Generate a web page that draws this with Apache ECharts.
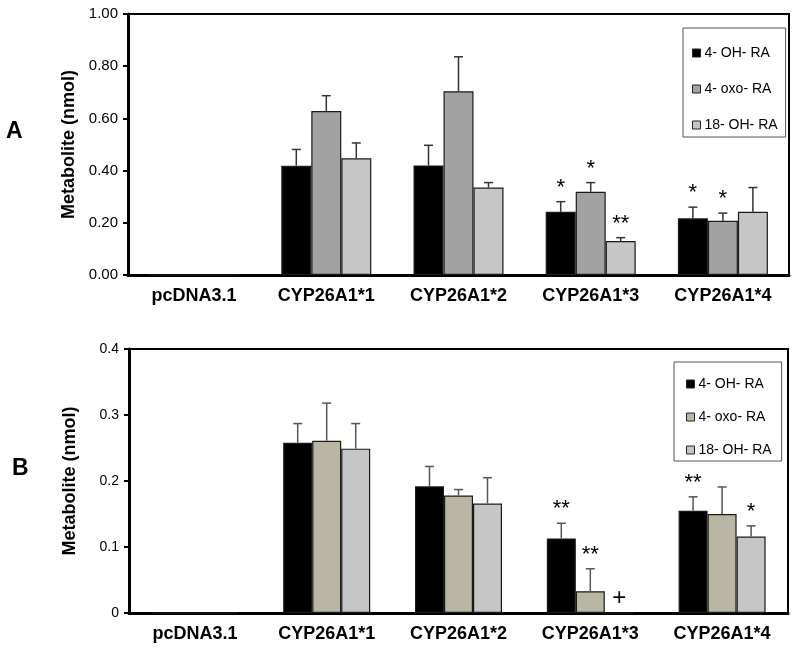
<!DOCTYPE html>
<html>
<head>
<meta charset="utf-8">
<script src="https://cdn.jsdelivr.net/npm/echarts@6/dist/echarts.min.js"></script>
<style>
html,body{margin:0;padding:0;background:#fff;}
#chart{width:800px;height:652px;}
</style>
</head>
<body>
<div id="chart"></div>
<script>
// ---------- data ----------
const categories = ['pcDNA3.1', 'CYP26A1*1', 'CYP26A1*2', 'CYP26A1*3', 'CYP26A1*4'];
const seriesNames = ['4- OH- RA', '4- oxo- RA', '18- OH- RA'];

// Panel A
const a_OH   = [0, 0.419, 0.420, 0.242, 0.217];
const a_oxo  = [0, 0.628, 0.704, 0.319, 0.208];
const a_18OH = [0, 0.447, 0.335, 0.130, 0.242];
const a_OH_err   = [0, 0.062, 0.077, 0.039, 0.043];
const a_oxo_err  = [0, 0.059, 0.132, 0.035, 0.029];
const a_18OH_err = [0, 0.059, 0.019, 0.013, 0.093];
const a_yTicks = [0, 0.2, 0.4, 0.6, 0.8, 1.0];
const a_annCat = [3, 3, 3, 4, 4];
const a_annSer = [0, 1, 2, 0, 1];
const a_annText = ['*', '*', '**', '*', '*'];

// Panel B
const b_OH   = [0, 0.258, 0.192, 0.113, 0.155];
const b_oxo  = [0, 0.261, 0.178, 0.033, 0.150];
const b_18OH = [0, 0.249, 0.166, 0, 0.116];
const b_OH_err   = [0, 0.029, 0.030, 0.023, 0.021];
const b_oxo_err  = [0, 0.057, 0.009, 0.034, 0.041];
const b_18OH_err = [0, 0.038, 0.039, 0, 0.016];
const b_yTicks = [0, 0.1, 0.2, 0.3, 0.4];
const b_annCat = [3, 3, 3, 4, 4];
const b_annSer = [0, 1, 2, 0, 2];
const b_annText = ['**', '**', '+', '**', '*'];

// ---------- build ----------
const FONT = 'Arial, "Liberation Sans", sans-serif';
const colorsA = ['#000000', '#a2a2a2', '#c6c6c6'];
const colorsB = ['#000000', '#b9b7a4', '#c6c6c6'];

function panel(vals, errs, annCat, annSer, annText, idx, barW, colors, errColor) {
  const series = [];
  vals.forEach((v, s) => {
    series.push({
      type: 'bar', name: seriesNames[s], xAxisIndex: idx, yAxisIndex: idx,
      data: v, barWidth: barW, barGap: '0%',
      itemStyle: { color: colors[s], borderColor: '#1a1a1a', borderWidth: 1.2 },
      z: 2
    });
  });
  const errData = [];
  vals.forEach((v, s) => v.forEach((y, c) => {
    if (errs[s][c] > 0) errData.push([c, y, errs[s][c], s]);
  }));
  series.push({
    type: 'custom', xAxisIndex: idx, yAxisIndex: idx, data: errData, z: 3,
    renderItem: function (params, api) {
      const c = api.value(0), y = api.value(1), e = api.value(2), s = api.value(3);
      const p0 = api.coord([c, y]);
      const p1 = api.coord([c, y + e]);
      const x = p0[0] + (s - 1) * barW;
      const st = { stroke: errColor, lineWidth: 1.5 };
      return { type: 'group', children: [
        { type: 'line', shape: { x1: x, y1: p0[1], x2: x, y2: p1[1] }, style: st },
        { type: 'line', shape: { x1: x - 4.5, y1: p1[1], x2: x + 4.5, y2: p1[1] }, style: st }
      ]};
    }
  });
  const annData = annCat.map((c, i) => {
    const s = annSer[i];
    return [c, vals[s][c] + errs[s][c], s];
  });
  series.push({
    type: 'custom', xAxisIndex: idx, yAxisIndex: idx, data: annData, z: 4,
    renderItem: function (params, api) {
      const c = api.value(0), y = api.value(1), s = api.value(2);
      const p = api.coord([c, y]);
      const t = annText[params.dataIndex];
      const isPlus = t === '+';
      return { type: 'text', x: p[0] + (s - 1) * barW, y: p[1] - (isPlus ? 3 : 3),
        style: { text: t, fill: '#000', font: (isPlus ? '24px ' : '22px ') + FONT,
                 align: 'center', verticalAlign: 'bottom' } };
    }
  });
  return series;
}

const series = [].concat(
  panel([a_OH, a_oxo, a_18OH], [a_OH_err, a_oxo_err, a_18OH_err], a_annCat, a_annSer, a_annText, 0, 30, colorsA, '#333'),
  panel([b_OH, b_oxo, b_18OH], [b_OH_err, b_oxo_err, b_18OH_err], b_annCat, b_annSer, b_annText, 1, 29, colorsB, '#555')
);

function yAxis(idx, ticks, fmt, fs) {
  return {
    type: 'value', gridIndex: idx, min: ticks[0], max: ticks[ticks.length - 1],
    interval: ticks[1] - ticks[0],
    name: 'Metabolite (nmol)', nameLocation: 'middle', nameGap: 50,
    nameTextStyle: { fontFamily: FONT, fontWeight: 'bold', fontSize: 18, color: '#000' },
    axisLine: { show: true, lineStyle: { color: '#000', width: 3 } },
    axisTick: { show: true, inside: false, length: 5, lineStyle: { color: '#000', width: 2 } },
    axisLabel: { formatter: fmt, fontFamily: FONT, fontSize: fs, color: '#000', margin: 10 },
    splitLine: { show: false }
  };
}
function xAxis(idx) {
  return {
    type: 'category', gridIndex: idx, data: categories,
    axisLine: { show: true, lineStyle: { color: '#000', width: 3 } },
    axisTick: { show: false },
    axisLabel: { fontFamily: FONT, fontWeight: 'bold', fontSize: 18, color: '#000', margin: 12 }
  };
}
function legend(left, top, padding, gap, colors) {
  return {
    orient: 'vertical', left: left, top: top, padding: padding, itemGap: gap,
    itemWidth: 8, itemHeight: 8, icon: 'rect',
    backgroundColor: '#fff', borderColor: '#555', borderWidth: 1, borderRadius: 0,
    selectedMode: false,
    textStyle: { fontFamily: FONT, fontSize: 14, color: '#000', padding: [0, 0, 0, -1] },
    data: seriesNames.map((n, i) => ({ name: n, itemStyle: { color: colors[i], borderColor: '#222', borderWidth: 1 } }))
  };
}

const option = {
  animation: false,
  backgroundColor: '#fff',
  grid: [
    { left: 128, right: 11, top: 14, height: 261, show: true, borderColor: '#000', borderWidth: 2, backgroundColor: 'transparent' },
    { left: 129, right: 12, top: 349, height: 264, show: true, borderColor: '#000', borderWidth: 2, backgroundColor: 'transparent' }
  ],
  xAxis: [xAxis(0), xAxis(1)],
  yAxis: [
    yAxis(0, a_yTicks, v => v.toFixed(2), 15),
    yAxis(1, b_yTicks, v => (v === 0 ? '0' : v.toFixed(1)), 14)
  ],
  legend: [
    legend(683, 28, [18, 8, 5, 9], 22, colorsA),
    legend(674, 362, [15, 10, 4, 12], 19, colorsB)
  ],
  graphic: [
    { type: 'text', left: 6, top: 120, style: { text: 'A', font: 'bold 23px ' + FONT, fill: '#000' } },
    { type: 'text', left: 12, top: 457, style: { text: 'B', font: 'bold 23px ' + FONT, fill: '#000' } }
  ],
  series: series
};

const chart = echarts.init(document.getElementById('chart'), null, { renderer: 'canvas' });
chart.setOption(option);
</script>
</body>
</html>
